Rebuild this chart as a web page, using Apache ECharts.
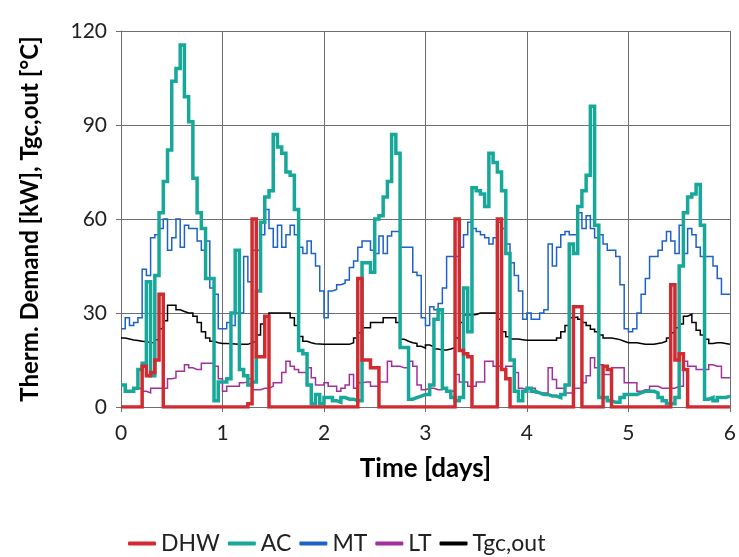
<!DOCTYPE html>
<html>
<head>
<meta charset="utf-8">
<script src="https://cdn.jsdelivr.net/npm/echarts/dist/echarts.min.js"></script>
<style>
  html, body { margin: 0; padding: 0; background: #fff; }
  #chart { width: 739px; height: 557px; }
</style>
</head>
<body>
<div id="chart"></div>
<script>
// Hourly thermal demand over six days (one row per day, 24 hourly values each)
const dhw = [
  0, 0, 0, 0, 0, 13, 10, 11, 15, 36, 0, 0, 0, 0, 0, 0, 0, 0, 0, 0, 0, 0, 0, 0,
  0, 0, 0, 0, 0, 0, 1, 60, 16, 16, 29, 0, 0, 0, 0, 0, 0, 0, 0, 0, 0, 0, 0, 0,
  0, 0, 0, 0, 0, 0, 0, 0, 41, 15, 15, 12.5, 12.5, 0, 0, 0, 0, 0, 0, 0, 0, 0, 0, 0,
  0, 0, 0, 0, 0, 0, 0, 60, 18, 17, 16, 0, 0, 0, 0, 0, 0, 60, 12, 9, 0, 0, 0, 0,
  0, 0, 0, 0, 0, 0, 0, 0, 0, 0, 0, 32, 32, 0, 0, 0, 0, 0, 13, 12, 0, 0, 0, 0,
  0, 0, 0, 0, 0, 0, 0, 0, 0, 0, 39, 15, 17, 12, 0, 0, 0, 0, 0, 0, 0, 0, 0, 0
];
const ac = [
  7, 5, 5, 6, 12, 14, 40, 10, 42, 62, 72, 82, 104, 108, 115.5, 99, 91, 73, 62, 57, 41, 41, 2, 8,
  8, 9, 30, 50, 12, 10, 7, 8, 37, 59, 67, 69, 87, 83, 81, 75, 74, 63, 18, 17, 7, 1, 4, 1,
  3, 3, 2, 1.5, 3, 2.5, 2.5, 2, 2, 46, 46, 43, 60, 61, 67, 72, 87, 81, 19, 19, 2.5, 3, 3.5, 4,
  4, 7, 28, 31, 6, 5, 3, 2, 3, 38, 24, 70, 69, 68, 64, 81, 78, 75, 69, 49, 15, 5, 2, 5,
  6, 5, 4.5, 4, 4, 3.5, 3.5, 3, 4, 7, 52, 49, 64, 69, 74, 96, 58, 3, 3, 2, 1.5, 1.5, 3, 4,
  4, 4, 4.5, 5, 5, 5, 4.5, 3, 2, 1, 1, 3, 45, 62, 67, 68, 71, 58, 2.5, 3, 2, 3, 3, 3.5
];
const mt = [
  25, 28.5, 26, 27, 28.5, 44, 42, 54, 55, 57, 60, 50, 54, 60, 51, 58, 57, 57, 53, 50, 53, 38, 36, 25,
  25, 27, 26, 30, 30, 48, 40, 50, 50, 55, 63, 57, 51, 58, 51, 55, 58, 55, 51, 49, 53, 49, 45, 37,
  28.5, 37, 37.5, 39, 39.5, 40.5, 44.5, 46.6, 51, 53, 53, 50, 49, 54.6, 49, 54.6, 56, 56, 51, 51, 51, 43, 42, 28.5,
  26, 32, 31, 33, 38, 48, 48, 48, 51, 55, 59, 57, 56, 55, 54, 52, 54, 59, 57, 52, 46, 42, 37, 28,
  30, 28, 28, 30, 31, 52, 45, 51, 55, 56, 55, 55, 62, 57, 61, 57, 54, 55, 52, 50, 50, 48, 39, 25,
  24, 25, 30, 36, 41, 48, 48, 50, 53, 56, 53, 49, 58, 49, 57, 55, 51, 48, 48, 48, 45, 41, 36, 36
];
const lt = [
  7, 5, 5, 6, 6, 5, 4.5, 6, 6, 6, 6, 9, 9.3, 11.4, 11.4, 13.5, 12.5, 12, 12, 14, 14, 14, 13, 9,
  5, 6.6, 6.6, 6.6, 7.7, 8, 9, 5.5, 5.5, 6, 6, 6.6, 7.7, 7.7, 11, 14.6, 13, 12, 11, 11, 12.5, 9.3, 7, 7,
  7.7, 6.6, 6.6, 5, 6, 7, 10.4, 6, 7.7, 8, 8, 6.6, 6.6, 8, 8, 14.6, 13, 13, 12.5, 12.5, 14.6, 13, 7, 5.5,
  6, 6, 5.5, 5.5, 6, 5, 5, 10.4, 8, 8, 6.6, 6.6, 8, 8, 14.6, 14.6, 13, 13, 12, 13, 13, 11, 6, 5.5,
  6, 6, 4.5, 4.5, 4.5, 12.5, 8.8, 6, 6, 4.5, 4.5, 6, 6, 7.7, 10, 15.7, 12.5, 13.5, 10.4, 10.4, 12.5, 12.5, 12.5, 7.7,
  7.7, 7.7, 5, 5.5, 5.5, 6.6, 6.6, 6, 6, 6, 6, 6.6, 6.6, 14.6, 13, 13, 12, 12, 12, 13.5, 13, 13, 9.3, 9.3
];
const tgc = [
  22, 21.7, 21.4, 21.2, 21, 20.8, 20.6, 20.5, 21.5, 25, 27.5, 32.5, 32.5, 31, 30.5, 30, 30, 29, 27, 24, 22, 21, 20.5, 20.3,
  20.3, 20.2, 20.1, 20, 20, 20, 20.5, 21, 23, 26.5, 29, 30, 30, 30, 30, 30, 28.5, 26, 22.5, 21, 20.5, 20.2, 20.1, 20,
  20, 20, 20, 20, 20, 20, 20.5, 22, 23.7, 25.3, 25.3, 27, 27, 27, 28.5, 28.5, 28.5, 27, 21.6, 21, 20.5, 20.3, 19.4, 18.8,
  19.8, 19.2, 18.5, 18.2, 18.2, 18.5, 19, 22, 27, 29.4, 29.4, 29.5, 30, 30, 30, 30, 30, 28, 24, 22.4, 21.7, 21.7, 21.5, 21.3,
  21.3, 21.3, 21.3, 21.3, 21.3, 21.3, 21.3, 22, 24, 26, 28.5, 28.7, 28, 27, 26, 24.8, 24, 23, 22, 22, 21.8, 21.5, 21, 20.5,
  20.5, 20.5, 20.3, 20, 20, 20, 20.3, 20.5, 21, 22, 23.7, 25.3, 26.5, 29, 29.6, 27, 24.5, 23, 21.6, 20.3, 20.5, 20.5, 20.3, 20
];

const legendNames = ['DHW', 'AC', 'MT', 'LT', 'Tgc,out'];
const colors = { DHW: '#d02b30', AC: '#17a899', MT: '#1c62c8', LT: '#a2309c', 'Tgc,out': '#000000' };

// Each hourly value is held until the next hour; the last one runs to the end of day 6
function toSteps(vals) {
  const pts = vals.map((v, i) => [i / 24, v]);
  pts.push([vals.length / 24, vals[vals.length - 1]]);
  return pts;
}

function lineSeries(name, vals, width, z) {
  return {
    name: name, type: 'line', step: 'end', data: toSteps(vals),
    showSymbol: false, symbol: 'none', z: z,
    lineStyle: { width: width, color: colors[name], join: 'miter' },
    itemStyle: { color: colors[name] }
  };
}

const font = 'Lato, "Open Sans", sans-serif';
const chart = echarts.init(document.getElementById('chart'), null, { renderer: 'canvas' });
chart.setOption({
  animation: false,
  backgroundColor: '#fff',
  grid: { left: 121, right: 6, top: 31, bottom: 150, containLabel: false },
  xAxis: {
    type: 'value', min: 0, max: 6, interval: 1,
    name: 'Time [days]', nameLocation: 'middle', nameGap: 49,
    nameTextStyle: { fontFamily: font, fontSize: 26, fontWeight: 'bold', color: '#000' },
    axisLine: { show: true, lineStyle: { color: '#6e6e6e', width: 1 } },
    axisTick: { show: true, length: 5, lineStyle: { color: '#6e6e6e' } },
    axisLabel: { fontFamily: font, fontSize: 21, color: '#222', margin: 16 },
    splitLine: { show: true, lineStyle: { color: '#6e6e6e', width: 1 } }
  },
  yAxis: {
    type: 'value', min: 0, max: 120, interval: 30,
    name: 'Therm. Demand [kW], Tgc,out [°C]', nameLocation: 'middle', nameGap: 79,
    nameTextStyle: { fontFamily: font, fontSize: 24, fontWeight: 'bold', color: '#000' },
    axisLine: { show: true, lineStyle: { color: '#6e6e6e', width: 1 } },
    axisTick: { show: true, length: 5, lineStyle: { color: '#6e6e6e' } },
    axisLabel: { fontFamily: font, fontSize: 21, color: '#222', margin: 14 },
    splitLine: { show: true, lineStyle: { color: '#6e6e6e', width: 1 } }
  },
  legend: {
    data: legendNames, left: 123, top: 527,
    icon: 'roundRect', itemWidth: 28, itemHeight: 4, itemGap: 8,
    textStyle: { fontFamily: font, fontSize: 23, color: '#222' }
  },
  series: [
    lineSeries('MT', mt, 1.5, 2),
    lineSeries('LT', lt, 1.5, 3),
    lineSeries('Tgc,out', tgc, 1.5, 4),
    lineSeries('AC', ac, 3.5, 5),
    lineSeries('DHW', dhw, 3.5, 6)
  ]
});
</script>
</body>
</html>
